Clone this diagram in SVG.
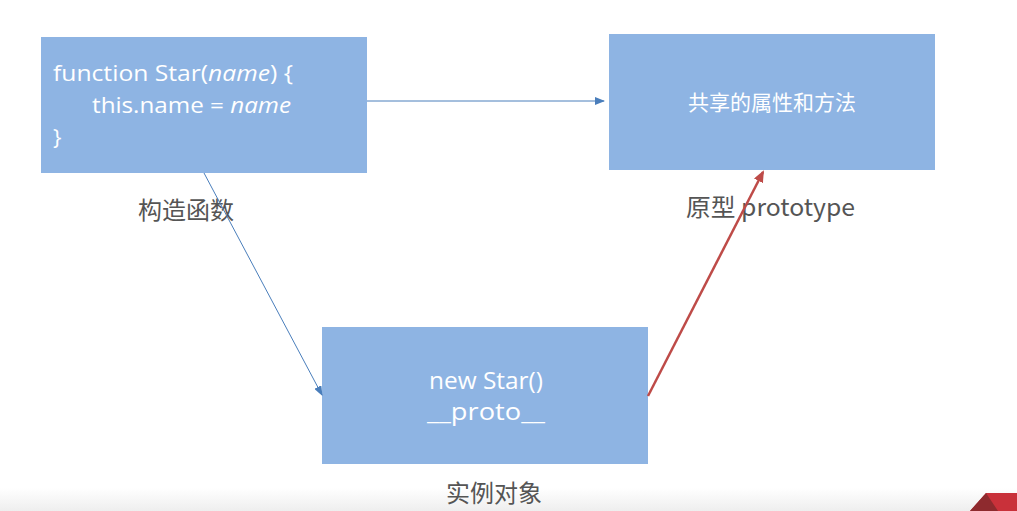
<svg xmlns="http://www.w3.org/2000/svg" width="1017" height="511" viewBox="0 0 1017 511">
<style>
.box{fill:#8EB4E3}
.wt{fill:#ffffff;font-family:"Open Sans","Liberation Sans","Noto Sans CJK SC",sans-serif}
.lbl{fill:#555555;font-family:"Noto Sans CJK SC","Liberation Sans",sans-serif;font-size:24px}
.blue{stroke:#4A7EBB;stroke-width:1;fill:none}
.red{stroke:#BE4B48;stroke-width:2.5;fill:none}
</style>
<defs>
<marker id="ab" markerWidth="10" markerHeight="8" refX="9" refY="4" orient="auto" markerUnits="userSpaceOnUse"><path d="M0,0 L10,4 L0,8 z" fill="#4A7EBB"/></marker>
<marker id="ar" markerWidth="12" markerHeight="10" refX="10" refY="5" orient="auto" markerUnits="userSpaceOnUse"><path d="M0,0 L12,5 L0,10 z" fill="#BE4B48"/></marker>
<linearGradient id="fade" x1="0" y1="0" x2="0" y2="1"><stop offset="0" stop-color="#ffffff"/><stop offset="1" stop-color="#eeeeee"/></linearGradient>
</defs>
<rect width="1017" height="511" fill="#ffffff"/>
<rect x="0" y="488" width="1017" height="23" fill="url(#fade)"/>
<g id="constructor">
<rect class="box" x="41" y="37" width="326" height="136"/>
<text class="wt" font-size="22.5" x="53" y="81" textLength="240" lengthAdjust="spacingAndGlyphs">function Star(<tspan font-style="italic">name</tspan>) {</text>
<text class="wt" font-size="22.5" x="92" y="113" textLength="199" lengthAdjust="spacingAndGlyphs">this.name = <tspan font-style="italic">name</tspan></text>
<text class="wt" font-size="22.5" x="53" y="145">}</text>
<text class="lbl" x="138" y="219">构造函数</text>
</g>
<g id="prototype">
<rect class="box" x="609" y="34" width="326" height="136"/>
<text class="wt" font-size="21" x="772" y="110" text-anchor="middle" font-family="Noto Sans CJK SC, sans-serif">共享的属性和方法</text>
<text class="lbl" x="686" y="216" textLength="169" lengthAdjust="spacingAndGlyphs">原型 prototype</text>
</g>
<g id="instance">
<rect class="box" x="322" y="327" width="326" height="137"/>
<text class="wt" font-size="23" x="486" y="389" text-anchor="middle" textLength="114" lengthAdjust="spacingAndGlyphs">new Star()</text>
<text class="wt" font-size="23" x="486" y="420" text-anchor="middle" textLength="118" lengthAdjust="spacingAndGlyphs">__proto__</text>
<text class="lbl" x="446" y="502">实例对象</text>
</g>
<g id="connectors">
<line class="blue" x1="367" y1="101" x2="604" y2="101" marker-end="url(#ab)"/>
<line class="blue" x1="204" y1="173" x2="322" y2="395" marker-end="url(#ab)"/>
<line class="red" x1="648" y1="396" x2="763" y2="172" marker-end="url(#ar)"/>
</g>
<g id="corner">
<polygon points="986,493 1017,493 1017,511 970,511" fill="#C9313A"/>
<polygon points="986,493 998,511 970,511" fill="#8E2A2E"/>
</g>
</svg>
